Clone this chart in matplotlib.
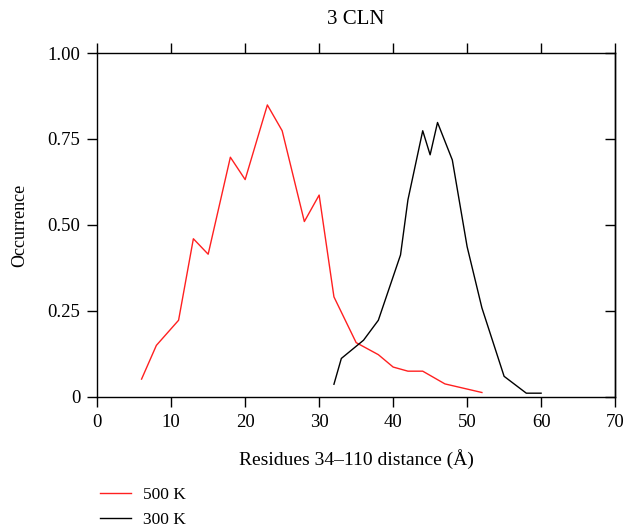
import matplotlib
matplotlib.use("Agg")
import matplotlib.pyplot as plt
from matplotlib.ticker import FuncFormatter

# 500 K trajectory
x_500 = [6, 8, 11, 13, 15, 18, 20, 23, 25, 28, 30, 32, 35, 38, 40, 42, 44, 47, 52]
y_500 = [0.052, 0.150, 0.223, 0.460, 0.415, 0.697, 0.632, 0.849, 0.774, 0.510,
         0.587, 0.291, 0.158, 0.123, 0.087, 0.075, 0.075, 0.038, 0.013]

# 300 K trajectory
x_300 = [32, 33, 36, 38, 41, 42, 44, 45, 46, 48, 50, 52, 55, 58, 60]
y_300 = [0.037, 0.112, 0.165, 0.223, 0.413, 0.573, 0.774, 0.704, 0.798, 0.689,
         0.437, 0.259, 0.060, 0.011, 0.011]

x_ticks = [0, 10, 20, 30, 40, 50, 60, 70]
y_ticks = [0, 0.25, 0.5, 0.75, 1.0]

plt.rcParams["font.family"] = ["Liberation Serif", "DejaVu Serif"]
plt.rcParams["font.size"] = 12.5

fig = plt.figure(figsize=(6.27, 5.30), dpi=100)
ax = fig.add_axes([0.155, 0.251, 0.826, 0.649])

ax.plot(x_500, y_500, color="#ff2020", lw=1.0, label="500 K")
ax.plot(x_300, y_300, color="black", lw=1.0, label="300 K")

ax.set_xlim(0, 70)
ax.set_ylim(0, 1.0)
ax.set_xticks(x_ticks)
ax.set_yticks(y_ticks)
ax.yaxis.set_major_formatter(
    FuncFormatter(lambda v, _: "0" if v == 0 else f"{v:.2f}")
)

ax.tick_params(axis="both", direction="out", length=7, width=1.0,
               top=True, right=False, pad=5, labelsize=13.5)
for sp in ax.spines.values():
    sp.set_linewidth(1.0)

# right-hand ticks point inward in the original
right = ax.secondary_yaxis("right")
right.set_yticks(y_ticks)
right.tick_params(direction="in", length=7, width=1.0, labelright=False)
right.spines["right"].set_linewidth(1.0)

ax.set_title("3 CLN", pad=21)
ax.set_xlabel("Residues 34\u2013110 distance (\u00c5)", fontsize=14,
              labelpad=13)
ax.set_ylabel("Occurrence", fontsize=13, labelpad=14)

fig.legend(loc="upper left", bbox_to_anchor=(0.148, 0.095), frameon=False,
           handlelength=1.8, handletextpad=0.7, labelspacing=0.55,
           borderaxespad=0)

fig.savefig("out.png", dpi=100)
